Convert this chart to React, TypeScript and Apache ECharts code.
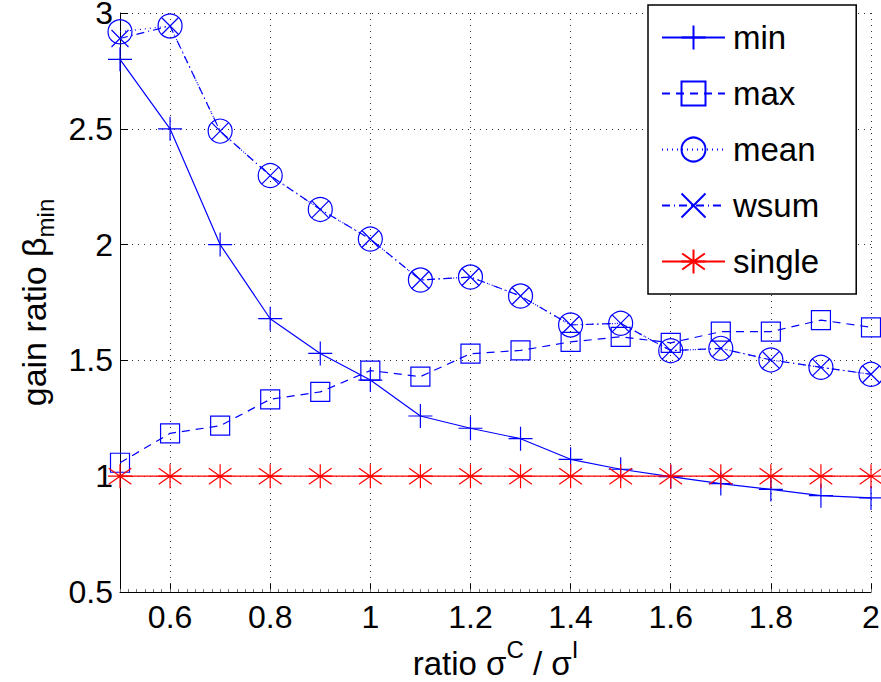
import React, { useEffect, useRef } from 'react';
import * as echarts from 'echarts';

const xValues = [0.5, 0.6, 0.7, 0.8, 0.9, 1.0, 1.1, 1.2, 1.3, 1.4, 1.5, 1.6, 1.7, 1.8, 1.9, 2.0];
const minValues = [2.8, 2.5, 2.0, 1.68, 1.53, 1.415, 1.26, 1.207, 1.162, 1.073, 1.03, 0.998, 0.968, 0.943, 0.916, 0.906];
const maxValues = [1.058, 1.185, 1.218, 1.332, 1.364, 1.456, 1.43, 1.529, 1.543, 1.58, 1.602, 1.576, 1.624, 1.624, 1.674, 1.643];
const meanValues = [2.919, 2.944, 2.49, 2.298, 2.152, 2.024, 1.847, 1.86, 1.778, 1.653, 1.66, 1.542, 1.552, 1.502, 1.47, 1.44];
const wsumValues = [2.89, 2.944, 2.49, 2.298, 2.152, 2.024, 1.847, 1.86, 1.778, 1.653, 1.66, 1.542, 1.552, 1.502, 1.47, 1.44];
const singleValues = [1, 1, 1, 1, 1, 1, 1, 1, 1, 1, 1, 1, 1, 1, 1, 1];
const xTickValues = [0.6, 0.8, 1.0, 1.2, 1.4, 1.6, 1.8, 2.0];
const seriesNames = ['min', 'max', 'mean', 'wsum', 'single'];

const FONT = '"Liberation Sans", Arial, Helvetica, sans-serif';
const BLUE = '#0000ff';
const RED = '#ff0000';

const PLUS = 'path://M0,12L24,12M12,0L12,24';
const CROSS = 'path://M0,0L24,24M24,0L0,24';
const STAR = 'path://M12,0L12,24M3,12L21,12M3.5,4L20.5,20M20.5,4L3.5,20';

function pairs(ys: number[]) {
  return xValues.map((x, i) => [x, ys[i]]);
}

function mkSeries(name: string, ys: number[], symbol: string, size: number, color: string, lineType: any) {
  return {
    name,
    type: 'line',
    data: pairs(ys),
    symbol,
    symbolSize: size,
    showAllSymbol: true,
    lineStyle: { color, width: 1.2, type: lineType },
    itemStyle: { color: 'rgba(0,0,0,0)', borderColor: color, borderWidth: 1.2 },
    emphasis: { disabled: true },
    z: 3,
  };
}

export default function App() {
  const ref = useRef<HTMLDivElement>(null);
  useEffect(() => {
    if (!ref.current) return;
    const chart = echarts.init(ref.current, undefined, { renderer: 'svg' });
    const option: any = {
      animation: false,
      backgroundColor: '#ffffff',
      textStyle: { fontFamily: FONT },
      grid: { left: 120, right: 10, top: 13, bottom: 90, containLabel: false, outerBoundsMode: 'none' },
      legend: {
        orient: 'vertical',
        left: 648,
        top: 5,
        data: seriesNames,
        itemWidth: 63,
        itemHeight: 30,
        itemGap: 23,
        padding: [16, 37, 16, 13],
        backgroundColor: '#ffffff',
        borderColor: '#000000',
        borderWidth: 1.5,
        selectedMode: false,
        textStyle: { fontFamily: FONT, fontSize: 33, lineHeight: 33, color: '#000', padding: [0, 0, 0, 3] },
        z: 10,
      },
      xAxis: [
        {
          type: 'value',
          min: 0.5,
          max: 2,
          name: '{m|ratio σ}{s|C}{m| / σ}{s|I}',
          nameLocation: 'middle',
          nameGap: 38,
          nameTextStyle: {
            rich: {
              m: { fontFamily: FONT, fontSize: 33, lineHeight: 33, verticalAlign: 'bottom', color: '#000' },
              s: { fontFamily: FONT, fontSize: 24, lineHeight: 24, verticalAlign: 'bottom', padding: [0, 0, 18, 0], color: '#000' },
            },
          },
          axisLine: { show: true, onZero: false, lineStyle: { color: '#000', width: 1 } },
          axisTick: { show: true, inside: true, length: 8, customValues: xTickValues, lineStyle: { color: '#000' } },
          axisLabel: {
            show: true,
            customValues: xTickValues,
            margin: 9,
            fontSize: 32,
            lineHeight: 32,
            color: '#000',
            fontFamily: FONT,
          },
          splitLine: { show: true, lineStyle: { color: '#333', type: [1, 5], width: 1 } },
        },
        {
          type: 'value',
          min: 0,
          max: 90,
          interval: 1,
          position: 'bottom',
          axisLine: { show: false },
          axisTick: { show: true, inside: true, length: 3, lineStyle: { color: '#777' } },
          axisLabel: { show: false },
          splitLine: { show: false },
        },
      ],
      yAxis: {
        type: 'value',
        min: 0.5,
        max: 3,
        interval: 0.5,
        name: '{m|gain ratio β}{s|min}',
        nameLocation: 'middle',
        nameGap: 65,
        nameRotate: 90,
        nameTextStyle: {
          rich: {
            m: { fontFamily: FONT, fontSize: 34, lineHeight: 34, verticalAlign: 'top', color: '#000' },
            s: { fontFamily: FONT, fontSize: 24, lineHeight: 24, verticalAlign: 'top', padding: [17, 0, 0, 0], color: '#000' },
          },
        },
        axisLine: { show: true, onZero: false, lineStyle: { color: '#000', width: 1 } },
        axisTick: { show: true, inside: true, length: 8, lineStyle: { color: '#000' } },
        axisLabel: { margin: 7, fontSize: 32, color: '#000', fontFamily: FONT },
        splitLine: { show: true, lineStyle: { color: '#333', type: [1, 5], width: 1 } },
      },
      series: [
        mkSeries('min', minValues, PLUS, 24, BLUE, 'solid'),
        mkSeries('max', maxValues, 'rect', 19, BLUE, [8, 6]),
        mkSeries('mean', meanValues, 'circle', 24, BLUE, [1, 4]),
        mkSeries('wsum', wsumValues, CROSS, 17, BLUE, [8, 4, 1, 4]),
        mkSeries('single', singleValues, STAR, 24, RED, 'solid'),
      ],
    };
    chart.setOption(option);
    return () => chart.dispose();
  }, []);
  return (
    <div
      ref={ref}
      style={{ position: 'fixed', left: 0, top: 0, width: 881, height: 682, background: '#fff' }}
    />
  );
}
